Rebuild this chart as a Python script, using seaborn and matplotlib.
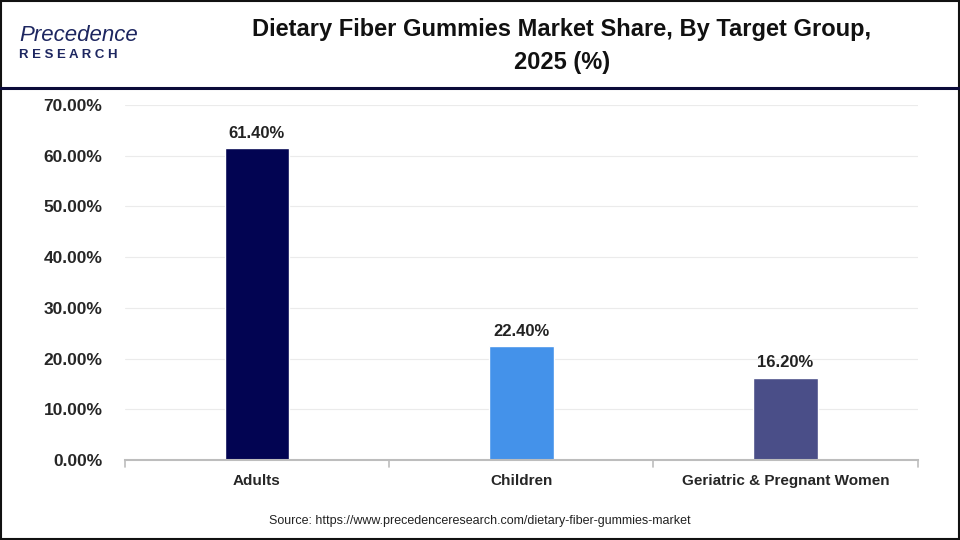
import matplotlib
matplotlib.use("Agg")
import matplotlib.pyplot as plt
import seaborn as sns
import pandas as pd
from matplotlib.patches import Rectangle
from matplotlib.lines import Line2D

groups = ["Adults", "Children", "Geriatric & Pregnant Women"]
shares = [61.40, 22.40, 16.20]
bar_colors = ["#020452", "#4492EA", "#4A4E88"]
ytick_vals = [0, 10, 20, 30, 40, 50, 60, 70]

df = pd.DataFrame({"group": groups, "share": shares})

sns.set_style("white")
plt.rcParams["font.family"] = ["Liberation Sans", "DejaVu Sans"]

fig = plt.figure(figsize=(9.6, 5.4), dpi=100)
ax = fig.add_axes([0.130, 0.148, 0.826, 0.658])

sns.barplot(data=df, x="group", y="share", hue="group", palette=bar_colors,
            width=0.245, legend=False, ax=ax, saturation=1)

ax.set_ylim(0, 70)
ax.set_xlim(-0.5, 2.5)
ax.set_yticks(ytick_vals)
ax.set_yticklabels([f"{v:.2f}%" for v in ytick_vals], fontsize=12.5, fontweight="bold")
ax.tick_params(axis="x", labelsize=11, pad=10)
for lbl in ax.get_xticklabels():
    lbl.set_fontweight("bold")
ax.tick_params(axis="y", length=0, pad=16)
ax.set_xticks([0, 1, 2])
ax.set_xlabel("")
ax.set_ylabel("")
ax.grid(axis="y", color="#EBEBEB", linewidth=0.8)
ax.set_axisbelow(True)
for s in ["top", "right", "left"]:
    ax.spines[s].set_visible(False)
ax.spines["bottom"].set_color("#BDBDBD")
ax.spines["bottom"].set_linewidth(1.5)
ax.tick_params(axis="x", length=0)
# category boundary ticks
for xb in [-0.5, 0.5, 1.5, 2.5]:
    ax.plot([xb, xb], [0, -1.3], color="#BDBDBD", lw=1.2, clip_on=False)

for i, v in enumerate(shares):
    ax.text(i, v + 1.5, f"{v:.2f}%", ha="center", va="bottom",
            fontsize=12, fontweight="bold", color="#222222")

# header
fig.text(0.585, 0.945, "Dietary Fiber Gummies Market Share, By Target Group,",
         ha="center", va="center", fontsize=17, fontweight="bold", color="#111111")
fig.text(0.585, 0.885, "2025 (%)", ha="center", va="center",
         fontsize=17, fontweight="bold", color="#111111")
fig.add_artist(Line2D([0, 1], [0.837, 0.837], color="#0B0B3A", lw=2.2,
                      transform=fig.transFigure))
fig.add_artist(Rectangle((0.001, 0.002), 0.998, 0.996, fill=False,
                         edgecolor="#111111", lw=1.5, transform=fig.transFigure))

# logo
fig.text(0.020, 0.935, "Precedence", ha="left", va="center", fontsize=16,
         color="#1D2660", fontstyle="italic")
fig.text(0.020, 0.898, "R E S E A R C H", ha="left", va="center", fontsize=9.5,
         color="#1D2660", fontweight="bold")

fig.text(0.5, 0.035, "Source: https://www.precedenceresearch.com/dietary-fiber-gummies-market",
         ha="center", va="center", fontsize=9, color="#222222")

fig.savefig("out.png", dpi=100)
